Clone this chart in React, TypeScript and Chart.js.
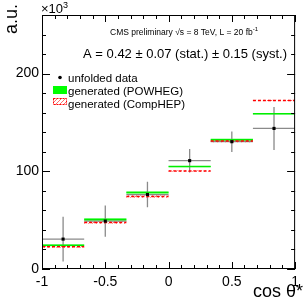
import { useEffect, useRef } from "react";
import { Chart, registerables } from "chart.js";

Chart.register(...registerables);

const binEdges = [-1, -0.6667, -0.3333, 0, 0.3333, 0.6667, 1];
const binCenters = [-0.8333, -0.5, -0.1667, 0.1667, 0.5, 0.8333];
const dataValues = [30.6, 49.0, 76.2, 110.9, 130.3, 143.9];
const dataErrors = [23, 16, 13, 12, 10.5, 22];
const powhegValues = [24.2, 50.6, 78.3, 104.8, 132.3, 158.9];
const powhegErrors = [1.0, 1.6, 1.3, 0.6, 1.3, 0.6];
const comphepValues = [22.8, 47.6, 74.2, 100.3, 131.0, 172.5];
const comphepErrors = [0.9, 1.2, 1.2, 0.6, 1.3, 0.6];
const xTickValues = [-1, -0.5, 0, 0.5, 1];
const yTickValues = [0, 100, 200];
const legendLabels = ["unfolded data", "generated (POWHEG)", "generated (CompHEP)"];

const FONT = '"Liberation Sans", Arial, Helvetica, sans-serif';

function stepData(vals: number[]) {
  const out: { x: number; y: number | null }[] = [];
  vals.forEach((v, i) => {
    out.push({ x: binEdges[i], y: v }, { x: binEdges[i + 1], y: v }, { x: binEdges[i + 1], y: null });
  });
  return out;
}

function makeHatch(ctx: CanvasRenderingContext2D) {
  const c = document.createElement("canvas");
  c.width = 4;
  c.height = 4;
  const g = c.getContext("2d")!;
  g.fillStyle = "rgba(255,255,255,0)";
  g.fillRect(0, 0, 4, 4);
  g.strokeStyle = "rgba(255,60,60,0.75)";
  g.lineWidth = 1;
  g.beginPath();
  g.moveTo(0, 4);
  g.lineTo(4, 0);
  g.moveTo(-1, 1);
  g.lineTo(1, -1);
  g.moveTo(3, 5);
  g.lineTo(5, 3);
  g.stroke();
  return ctx.createPattern(c, "repeat");
}

const physPlugin = {
  id: "phys",
  beforeDatasetsDraw(chart: any) {
    const { ctx, chartArea: a } = chart;
    const xs = chart.scales.x;
    const ys = chart.scales.y;
    const hatch = makeHatch(ctx);
    ctx.save();
    ctx.beginPath();
    ctx.rect(a.left, a.top, a.right - a.left, a.bottom - a.top);
    ctx.clip();
    for (let i = 0; i < binCenters.length; i++) {
      const x0 = xs.getPixelForValue(binEdges[i]);
      const x1 = xs.getPixelForValue(binEdges[i + 1]);
      // POWHEG band
      const gTop = ys.getPixelForValue(powhegValues[i] + powhegErrors[i]);
      const gBot = ys.getPixelForValue(powhegValues[i] - powhegErrors[i]);
      ctx.fillStyle = "rgba(0,255,0,0.45)";
      ctx.fillRect(x0, gTop, x1 - x0, gBot - gTop);
      // CompHEP band
      const rTop = ys.getPixelForValue(comphepValues[i] + comphepErrors[i]);
      const rBot = ys.getPixelForValue(comphepValues[i] - comphepErrors[i]);
      ctx.fillStyle = hatch || "rgba(255,0,0,0.3)";
      ctx.fillRect(x0, rTop, x1 - x0, rBot - rTop);
    }
    // error bars of data
    ctx.strokeStyle = "#8a8a8a";
    ctx.lineWidth = 1.3;
    for (let i = 0; i < binCenters.length; i++) {
      const x0 = xs.getPixelForValue(binEdges[i]);
      const x1 = xs.getPixelForValue(binEdges[i + 1]);
      const xc = xs.getPixelForValue(binCenters[i]);
      const yc = ys.getPixelForValue(dataValues[i]);
      const yt = ys.getPixelForValue(dataValues[i] + dataErrors[i]);
      const yb = ys.getPixelForValue(dataValues[i] - dataErrors[i]);
      ctx.beginPath();
      ctx.moveTo(x0, yc);
      ctx.lineTo(x1, yc);
      ctx.moveTo(xc, yt);
      ctx.lineTo(xc, yb);
      ctx.stroke();
    }
    ctx.restore();
  },
  afterDraw(chart: any) {
    const { ctx, chartArea: a } = chart;
    const xs = chart.scales.x;
    const ys = chart.scales.y;
    ctx.save();
    // frame
    ctx.strokeStyle = "#000";
    ctx.lineWidth = 1;
    ctx.strokeRect(a.left + 0.5, a.top + 0.5, a.right - a.left - 1, a.bottom - a.top - 1);
    // y ticks (inside, left and right)
    ctx.beginPath();
    for (let v = 0; v <= 260; v += 20) {
      const py = Math.round(ys.getPixelForValue(v)) + 0.5;
      const len = yTickValues.includes(v) ? 8 : 4;
      ctx.moveTo(a.left, py);
      ctx.lineTo(a.left + len, py);
      ctx.moveTo(a.right, py);
      ctx.lineTo(a.right - len, py);
    }
    // x ticks (inside, bottom and top)
    for (let k = -10; k <= 10; k++) {
      const v = k / 10;
      const px = Math.round(xs.getPixelForValue(v)) + 0.5;
      const len = k % 5 === 0 ? 7 : 4;
      ctx.moveTo(px, a.bottom);
      ctx.lineTo(px, a.bottom - len);
      ctx.moveTo(px, a.top);
      ctx.lineTo(px, a.top + len);
    }
    ctx.stroke();

    ctx.fillStyle = "#000";
    ctx.textBaseline = "alphabetic";
    // x10^3
    ctx.textAlign = "left";
    ctx.font = `13px ${FONT}`;
    ctx.fillText("\u00d710", 41, 13);
    const w10 = ctx.measureText("\u00d710").width;
    ctx.font = `9px ${FONT}`;
    ctx.fillText("3", 41 + w10, 8);

    // y title
    ctx.save();
    ctx.translate(17, 4);
    ctx.rotate(-Math.PI / 2);
    ctx.textAlign = "right";
    ctx.font = `18px ${FONT}`;
    ctx.fillText("a.u.", 0, 0);
    ctx.restore();

    // x title
    ctx.textAlign = "right";
    ctx.font = `18px ${FONT}`;
    ctx.fillText("cos \u03b8*", 303, 297);

    // CMS text
    ctx.textAlign = "left";
    ctx.font = `8.5px ${FONT}`;
    const cms = "CMS preliminary \u221As = 8 TeV, L = 20 fb";
    ctx.fillText(cms, 110, 35);
    const wc = ctx.measureText(cms).width;
    ctx.font = `6px ${FONT}`;
    ctx.fillText("-1", 110 + wc, 31);

    // asymmetry text
    ctx.textAlign = "right";
    ctx.font = `13px ${FONT}`;
    ctx.fillText("A = 0.42 \u00b1 0.07 (stat.) \u00b1 0.15 (syst.)", 287, 58);

    // legend
    ctx.textAlign = "left";
    ctx.font = `11.5px ${FONT}`;
    ctx.beginPath();
    ctx.arc(60, 77.5, 1.8, 0, Math.PI * 2);
    ctx.fill();
    ctx.fillText(legendLabels[0], 68, 82);
    ctx.fillStyle = "#00ff00";
    ctx.fillRect(53, 86, 14, 8);
    ctx.fillStyle = "#000";
    ctx.fillText(legendLabels[1], 68, 95);
    const hatch = makeHatch(ctx);
    ctx.fillStyle = hatch || "rgba(255,0,0,0.4)";
    ctx.fillRect(53, 98, 14, 7);
    ctx.strokeStyle = "#ff0000";
    ctx.lineWidth = 1;
    ctx.setLineDash([2, 1]);
    ctx.strokeRect(53.5, 98.5, 13, 6);
    ctx.setLineDash([]);
    ctx.fillStyle = "#000";
    ctx.fillText(legendLabels[2], 68, 108);
    ctx.restore();
  },
};

export default function App() {
  const ref = useRef<HTMLCanvasElement | null>(null);
  useEffect(() => {
    if (!ref.current) return;
    const chart = new Chart(ref.current, {
      type: "line",
      data: {
        datasets: [
          {
            label: "unfolded data",
            data: binCenters.map((c, i) => ({ x: c, y: dataValues[i] })),
            showLine: false,
            pointStyle: "rect",
            pointRadius: 2.2,
            pointBackgroundColor: "#000",
            pointBorderWidth: 0,
            backgroundColor: "#000",
            borderColor: "#000",
            order: 0,
          },
          {
            label: "generated (CompHEP)",
            data: stepData(comphepValues),
            borderColor: "#ff0000",
            borderWidth: 1.5,
            borderDash: [3, 2],
            pointRadius: 0,
            spanGaps: false,
            order: 1,
          },
          {
            label: "generated (POWHEG)",
            data: stepData(powhegValues),
            borderColor: "#00ee00",
            borderWidth: 1.5,
            pointRadius: 0,
            spanGaps: false,
            order: 2,
          },
        ] as any,
      },
      options: {
        animation: false,
        responsive: false,
        devicePixelRatio: 1,
        layout: { padding: { top: 15, right: 2, left: 0, bottom: 0 } },
        plugins: { legend: { display: false }, tooltip: { enabled: false } },
        events: [],
        scales: {
          x: {
            type: "linear",
            min: -1,
            max: 1,
            grid: { display: false, drawTicks: false },
            border: { display: false },
            afterFit: (s: any) => {
              s.height = 31;
            },
            afterBuildTicks: (s: any) => {
              s.ticks = xTickValues.map((v) => ({ value: v }));
            },
            ticks: {
              padding: 5,
              color: "#000",
              font: { size: 14, family: FONT },
              maxRotation: 0,
              autoSkip: false,
              callback: (v: any) => String(v),
            },
          },
          y: {
            type: "linear",
            min: 0,
            max: 260,
            grid: { display: false, drawTicks: false },
            border: { display: false },
            afterFit: (s: any) => {
              s.width = 42;
            },
            afterBuildTicks: (s: any) => {
              s.ticks = yTickValues.map((v) => ({ value: v }));
            },
            ticks: {
              padding: 3,
              color: "#000",
              font: { size: 14, family: FONT },
              callback: (v: any) => String(v),
            },
          },
        },
      } as any,
      plugins: [physPlugin],
    });
    return () => chart.destroy();
  }, []);
  return (
    <div style={{ position: "absolute", left: 0, top: 0, width: 304, height: 300, background: "#fff" }}>
      <canvas ref={ref} width={304} height={300} />
    </div>
  );
}
